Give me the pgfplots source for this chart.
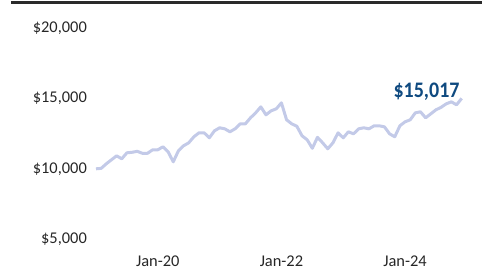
\documentclass[border=0pt]{standalone}
\usepackage{fontspec}
\setmainfont{Carlito}
\usepackage{graphicx}
\usepackage{pgfplots}
\pgfplotsset{compat=1.18}
\definecolor{linecol}{HTML}{C3CAE8}
\definecolor{anncol}{HTML}{0F4A80}
\definecolor{rulecol}{HTML}{2A2A2A}
\begin{document}
\begin{tikzpicture}
\useasboundingbox (-96pt,-37pt) rectangle (386pt,239pt);
\draw[rulecol, line width=3pt] (-85pt,236.5pt) -- (386pt,236.5pt);
\begin{axis}[
  at={(0pt,0pt)}, anchor=origin,
  scale only axis,
  width=365.7pt, height=210.6pt,
  xmin=0, xmax=71, ymin=5000, ymax=20000,
  clip=false,
  axis line style={draw=none},
  major tick style={draw=none},
  xtick={12,36,60},
  xticklabels={Jan-20,Jan-22,Jan-24},
  ytick={5000,10000,15000,20000},
  yticklabels={{\$5,000},{\$10,000},{\$15,000},{\$20,000}},
  yticklabel style={font=\fontsize{16.4}{18}\selectfont, anchor=east, inner sep=0pt, xshift=-9pt, text=black!85},
  xticklabel style={font=\fontsize{16.4}{18}\selectfont, anchor=north, inner sep=0pt, yshift=-17pt, text=black!85},
  scaled y ticks=false,
]
\addplot[linecol, line width=3pt, line join=round] coordinates {
(0,10000)(1,10030)(2,10356)(3,10641)(4,10926)(5,10712)(6,11139)(7,11175)
(8,11246)(9,11104)(10,11104)(11,11353)(12,11353)(13,11567)(14,11210)(15,10498)
(16,11282)(17,11638)(18,11851)(19,12279)(20,12563)(21,12563)(22,12207)(23,12706)
(24,12920)(25,12848)(26,12635)(27,12848)(28,13204)(29,13204)(30,13631)(31,13987)
(32,14414)(33,13845)(34,14130)(35,14272)(36,14699)(37,13489)(38,13204)(39,13026)
(40,12350)(41,12065)(42,11460)(43,12243)(44,11851)(45,11424)(46,11851)(47,12563)
(48,12207)(49,12635)(50,12492)(51,12848)(52,12920)(53,12848)(54,13062)(55,13062)
(56,12990)(57,12492)(58,12279)(59,13062)(60,13346)(61,13489)(62,13987)(63,14058)
(64,13631)(65,13916)(66,14201)(67,14379)(68,14628)(69,14770)(70,14557)(71,15017)
};
\node[anchor=base east, inner sep=0pt, text=anncol, xshift=-2pt, yshift=0.5pt] at (axis cs:71,15017)
  {\scalebox{0.9}[1]{\fontsize{22.2}{24}\selectfont\bfseries \$15,017}};
\end{axis}
\end{tikzpicture}
\end{document}
